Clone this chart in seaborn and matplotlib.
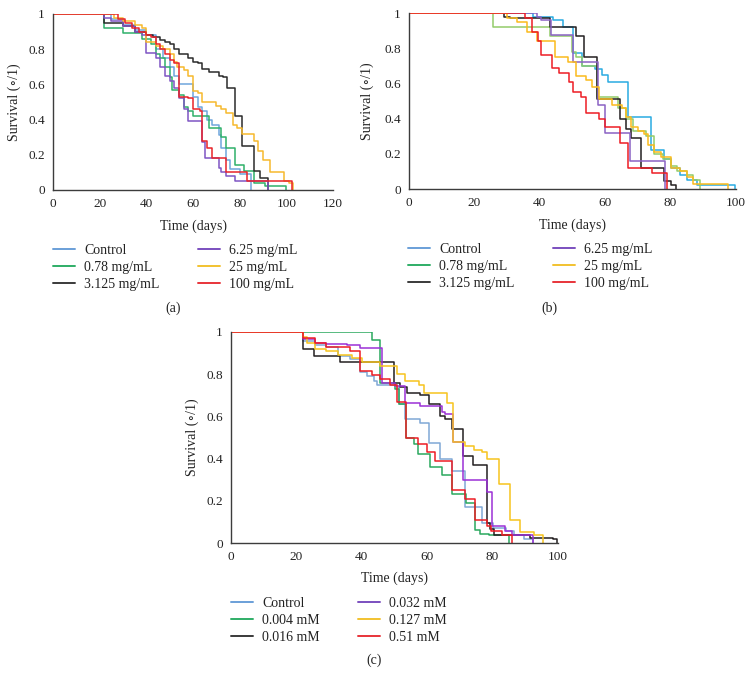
import matplotlib
matplotlib.use("Agg")
import matplotlib.pyplot as plt
from matplotlib.lines import Line2D
import seaborn as sns
import pandas as pd

# ---------------- Panel (a) data: days / survival fraction ----------------
a_labels = ["Control", "0.78 mg/mL", "3.125 mg/mL", "6.25 mg/mL", "25 mg/mL", "100 mg/mL"]

a_control_t = [0, 25, 30, 35, 40, 44, 47, 50, 52, 54, 60, 62, 64, 66, 68, 71, 72, 74, 76, 80, 85]
a_control_s = [1, 0.97, 0.94, 0.91, 0.88, 0.80, 0.75, 0.70, 0.65, 0.60, 0.53, 0.47, 0.45, 0.40, 0.37, 0.31, 0.24, 0.17, 0.12, 0.09, 0]

a_078_t = [0, 22, 30, 38, 42, 44, 46, 48, 50, 51, 54, 56, 58, 60, 67, 72, 74, 78, 82, 86, 91, 100]
a_078_s = [1, 0.92, 0.89, 0.86, 0.83, 0.77, 0.75, 0.70, 0.64, 0.57, 0.54, 0.47, 0.45, 0.42, 0.35, 0.30, 0.24, 0.14, 0.11, 0.04, 0.02, 0]

a_3125_t = [0, 22, 30, 35, 40, 43, 46, 48, 50, 52, 54, 58, 60, 62, 64, 67, 71, 73, 74.5, 78, 81, 86, 88.5, 92]
a_3125_s = [1, 0.95, 0.93, 0.90, 0.88, 0.87, 0.85, 0.84, 0.83, 0.80, 0.77, 0.75, 0.73, 0.72, 0.69, 0.67, 0.65, 0.64, 0.58, 0.42, 0.25, 0.11, 0.07, 0]

a_625_t = [0, 22, 25, 30, 35, 38, 40, 44, 46, 48, 50, 52, 54, 56, 58, 64, 65, 71, 72, 74, 78, 92]
a_625_s = [1, 0.98, 0.96, 0.93, 0.90, 0.88, 0.78, 0.75, 0.70, 0.65, 0.62, 0.58, 0.52, 0.46, 0.39, 0.27, 0.18, 0.125, 0.10, 0.08, 0.05, 0]

a_25_t = [0, 26, 30, 35, 38, 40, 44, 47, 50, 52, 53, 56, 58, 60, 62, 64, 70, 72, 74, 77, 79, 81, 86, 88, 90, 93, 99, 101, 103]
a_25_s = [1, 0.98, 0.96, 0.94, 0.92, 0.84, 0.82, 0.80, 0.77, 0.73, 0.70, 0.68, 0.65, 0.56, 0.55, 0.50, 0.48, 0.46, 0.44, 0.37, 0.35, 0.32, 0.28, 0.22, 0.17, 0.10, 0.05, 0.04, 0]

a_100_t = [0, 28, 31, 34, 37, 40, 42, 44, 46, 48, 50, 52, 54, 58, 60, 63, 64, 66, 68, 74, 83, 102.5]
a_100_s = [1, 0.97, 0.95, 0.92, 0.90, 0.88, 0.87, 0.83, 0.80, 0.77, 0.74, 0.72, 0.53, 0.52, 0.46, 0.45, 0.28, 0.24, 0.18, 0.10, 0.05, 0]

# ---------------- Panel (b) data ----------------
b_labels = a_labels

b_control_t = [0, 38, 44, 47, 50, 53, 57, 59, 61, 67, 74, 78, 80, 83, 85, 88, 99.7]
b_control_s = [1, 0.98, 0.96, 0.92, 0.77, 0.70, 0.68, 0.65, 0.61, 0.41, 0.22, 0.17, 0.12, 0.08, 0.05, 0.025, 0]

b_078_t = [0, 25.7, 43, 49.7, 51, 53, 57.4, 64, 66.5, 68.5, 72.5, 74.8, 77.8, 80, 82, 85, 87, 89]
b_078_s = [1, 0.92, 0.87, 0.78, 0.75, 0.70, 0.52, 0.46, 0.40, 0.33, 0.30, 0.20, 0.17, 0.13, 0.10, 0.08, 0.05, 0]

b_3125_t = [0, 29, 31, 43, 51, 53.5, 57.5, 64.5, 66.5, 68, 71, 78, 80, 81.5]
b_3125_s = [1, 0.98, 0.97, 0.92, 0.87, 0.75, 0.51, 0.40, 0.34, 0.29, 0.12, 0.045, 0.02, 0]

b_625_t = [0, 39, 40.5, 43.3, 50.3, 57.9, 60, 67.6, 78.3]
b_625_s = [1, 0.98, 0.96, 0.875, 0.72, 0.48, 0.32, 0.16, 0]

b_25_t = [0, 30, 33, 36, 39, 44.5, 48.5, 51, 54, 56, 58, 62, 65, 66.5, 68, 70, 72, 73, 75, 77, 80, 83, 85, 87, 97.7]
b_25_s = [1, 0.97, 0.95, 0.89, 0.84, 0.75, 0.72, 0.64, 0.62, 0.58, 0.51, 0.48, 0.46, 0.41, 0.35, 0.33, 0.31, 0.25, 0.21, 0.18, 0.12, 0.10, 0.07, 0.03, 0]

b_100_t = [0, 35.5, 37.5, 39.5, 40.5, 43.6, 46, 49, 50.3, 52.5, 54, 58, 60, 64.5, 67, 74.2, 78.8]
b_100_s = [1, 0.97, 0.89, 0.84, 0.76, 0.69, 0.66, 0.61, 0.55, 0.52, 0.43, 0.40, 0.35, 0.26, 0.12, 0.09, 0]

# ---------------- Panel (c) data ----------------
c_labels = ["Control", "0.004 mM", "0.016 mM", "0.032 mM", "0.127 mM", "0.51 mM"]

c_control_t = [0, 22, 25.7, 29.2, 32.8, 36.4, 39.4, 41.6, 43.6, 44.5, 50.8, 51.3, 53.3, 57.9, 60.4, 64, 67.6, 71.5, 76.8, 80, 84, 86.5, 89.5, 92.5]
c_control_s = [1, 0.957, 0.94, 0.93, 0.885, 0.87, 0.81, 0.79, 0.77, 0.75, 0.74, 0.66, 0.59, 0.57, 0.476, 0.40, 0.34, 0.17, 0.095, 0.07, 0.057, 0.04, 0.02, 0]

c_0004_t = [0, 43, 45.6, 50, 51.3, 53.4, 56, 57.3, 61, 64.5, 67.5, 72, 74.6, 76, 79, 85]
c_0004_s = [1, 0.96, 0.76, 0.73, 0.66, 0.50, 0.47, 0.42, 0.36, 0.32, 0.23, 0.19, 0.06, 0.045, 0.04, 0]

c_0016_t = [0, 22, 25.5, 33.4, 49.7, 51.8, 53.8, 57.9, 60.4, 64, 65.4, 67.6, 71, 74.1, 78.2, 79.3, 80.5, 91.4, 98.6, 99.7]
c_0016_s = [1, 0.92, 0.885, 0.86, 0.76, 0.74, 0.71, 0.70, 0.66, 0.60, 0.59, 0.54, 0.41, 0.37, 0.096, 0.065, 0.04, 0.025, 0.02, 0]

c_0032_t = [0, 22, 25.7, 29.2, 35.4, 39.4, 46.1, 50.2, 53.2, 57.9, 64.5, 65.4, 67.8, 71, 78.2, 79.7, 83.8, 85.8, 92.5]
c_0032_s = [1, 0.965, 0.95, 0.945, 0.94, 0.925, 0.76, 0.745, 0.665, 0.65, 0.62, 0.61, 0.48, 0.30, 0.24, 0.08, 0.057, 0.04, 0]

c_0127_t = [0, 22, 23.1, 25.7, 29.2, 32.8, 37, 40, 45.7, 50.8, 53.3, 57.4, 58.9, 66, 68, 71.6, 74.2, 76.8, 78.3, 81.9, 85.4, 88.5, 92.6, 95.5]
c_0127_s = [1, 0.975, 0.95, 0.92, 0.91, 0.89, 0.875, 0.86, 0.84, 0.80, 0.77, 0.75, 0.71, 0.665, 0.48, 0.46, 0.44, 0.43, 0.40, 0.28, 0.11, 0.05, 0.04, 0]

c_051_t = [0, 22.1, 25.7, 29.2, 36.4, 39.4, 43, 45.6, 48.6, 50.7, 53.5, 57.3, 59.8, 62.4, 67.5, 71.6, 74.6, 78.2, 79.5, 82.8, 85.8]
c_051_s = [1, 0.97, 0.95, 0.93, 0.91, 0.815, 0.795, 0.775, 0.75, 0.67, 0.50, 0.47, 0.43, 0.39, 0.25, 0.21, 0.11, 0.08, 0.057, 0.04, 0]

# ---------------- styling ----------------
legend_colors = ["#6a9fd8", "#2fae67", "#3a3a3a", "#7b4fbf", "#f2c230", "#e8343a"]
a_colors = ["#6fa6dc", "#2fb06a", "#2b2b2b", "#7e55c3", "#f6b92d", "#e8232a"]
b_colors = ["#29abe2", "#93cc6a", "#231f20", "#8a62c4", "#fbbb1c", "#ed1c24"]
c_colors = ["#80a8d6", "#2aa85e", "#231f20", "#9b30d6", "#f7c41e", "#ed1c24"]

sns.set_theme(style="white")
plt.rcParams["font.family"] = ["Liberation Serif", "DejaVu Serif"]
plt.rcParams["axes.unicode_minus"] = False

W, H = 753, 687
fig = plt.figure(figsize=(W / 100, H / 100), dpi=100)


def frac_axes(left, top, right, bottom):
    return fig.add_axes([left / W, 1 - bottom / H, (right - left) / W, (bottom - top) / H])


def build_df(ts, ss, labels):
    frames = []
    for t, s, lab in zip(ts, ss, labels):
        frames.append(pd.DataFrame({"Time": t, "Survival": s, "Group": lab}))
    return pd.concat(frames, ignore_index=True)


def draw_panel(ax, df, labels, colors, xmax, xticks, ylab_x, xlab_y):
    sns.lineplot(data=df, x="Time", y="Survival", hue="Group", hue_order=labels,
                 palette=colors, estimator=None, sort=False, drawstyle="steps-post",
                 linewidth=1.1, legend=False, ax=ax)
    ax.set_xlim(0, xmax)
    ax.set_ylim(0, 1)
    ax.set_xticks(xticks)
    ax.set_xticklabels([str(v) for v in xticks])
    yt = [0, 0.2, 0.4, 0.6, 0.8, 1]
    ax.set_yticks(yt)
    ax.set_yticklabels(["0", "0.2", "0.4", "0.6", "0.8", "1"])
    for sp in ["top", "right"]:
        ax.spines[sp].set_visible(False)
    for sp in ["left", "bottom"]:
        ax.spines[sp].set_color("#3c3c3c")
        ax.spines[sp].set_linewidth(1.0)
    ax.tick_params(axis="both", direction="out", length=3, width=0.9, color="#3c3c3c",
                   labelsize=9.5, pad=3, labelcolor="#222222")
    ax.set_xlabel("Time (days)", fontsize=10, color="#222222")
    ax.set_ylabel("Survival (\u2218/1)", fontsize=10, color="#222222")
    ax.xaxis.set_label_coords(0.5, xlab_y)
    ax.yaxis.set_label_coords(ylab_x, 0.5)
    ax.patch.set_alpha(0)


def draw_legend(labels, x_left, y_top):
    handles = [Line2D([0], [0], color=c, lw=1.4) for c in legend_colors]
    fig.legend(handles, labels, loc="upper left",
               bbox_to_anchor=(x_left / W, 1 - y_top / H), ncol=2, frameon=False,
               fontsize=10, handlelength=1.55, handletextpad=0.68, columnspacing=2.8,
               labelspacing=0.28, borderpad=0, borderaxespad=0,
               labelcolor="#222222")


# Panel (a)
ax_a = frac_axes(53, 14, 333, 190)
df_a = build_df([a_control_t, a_078_t, a_3125_t, a_625_t, a_25_t, a_100_t],
                [a_control_s, a_078_s, a_3125_s, a_625_s, a_25_s, a_100_s], a_labels)
draw_panel(ax_a, df_a, a_labels, a_colors, 120, [0, 20, 40, 60, 80, 100, 120], -0.114, -0.165)
draw_legend(a_labels, 53, 244)
fig.text(173 / W, 1 - 308 / H, "(a)", ha="center", va="center", fontsize=10, color="#222222")

# Panel (b)
ax_b = frac_axes(409, 13, 736, 189)
df_b = build_df([b_control_t, b_078_t, b_3125_t, b_625_t, b_25_t, b_100_t],
                [b_control_s, b_078_s, b_3125_s, b_625_s, b_25_s, b_100_s], b_labels)
draw_panel(ax_b, df_b, b_labels, b_colors, 100, [0, 20, 40, 60, 80, 100], -0.107, -0.17)
draw_legend(b_labels, 408, 243)
fig.text(549 / W, 1 - 308 / H, "(b)", ha="center", va="center", fontsize=10, color="#222222")

# Panel (c)
ax_c = frac_axes(231, 332, 558, 543)
df_c = build_df([c_control_t, c_0004_t, c_0016_t, c_0032_t, c_0127_t, c_051_t],
                [c_control_s, c_0004_s, c_0016_s, c_0032_s, c_0127_s, c_051_s], c_labels)
draw_panel(ax_c, df_c, c_labels, c_colors, 100, [0, 20, 40, 60, 80, 100], -0.098, -0.133)
draw_legend(c_labels, 231, 597)
fig.text(374 / W, 1 - 660 / H, "(c)", ha="center", va="center", fontsize=10, color="#222222")

fig.savefig("out.png", dpi=100, facecolor="white")
